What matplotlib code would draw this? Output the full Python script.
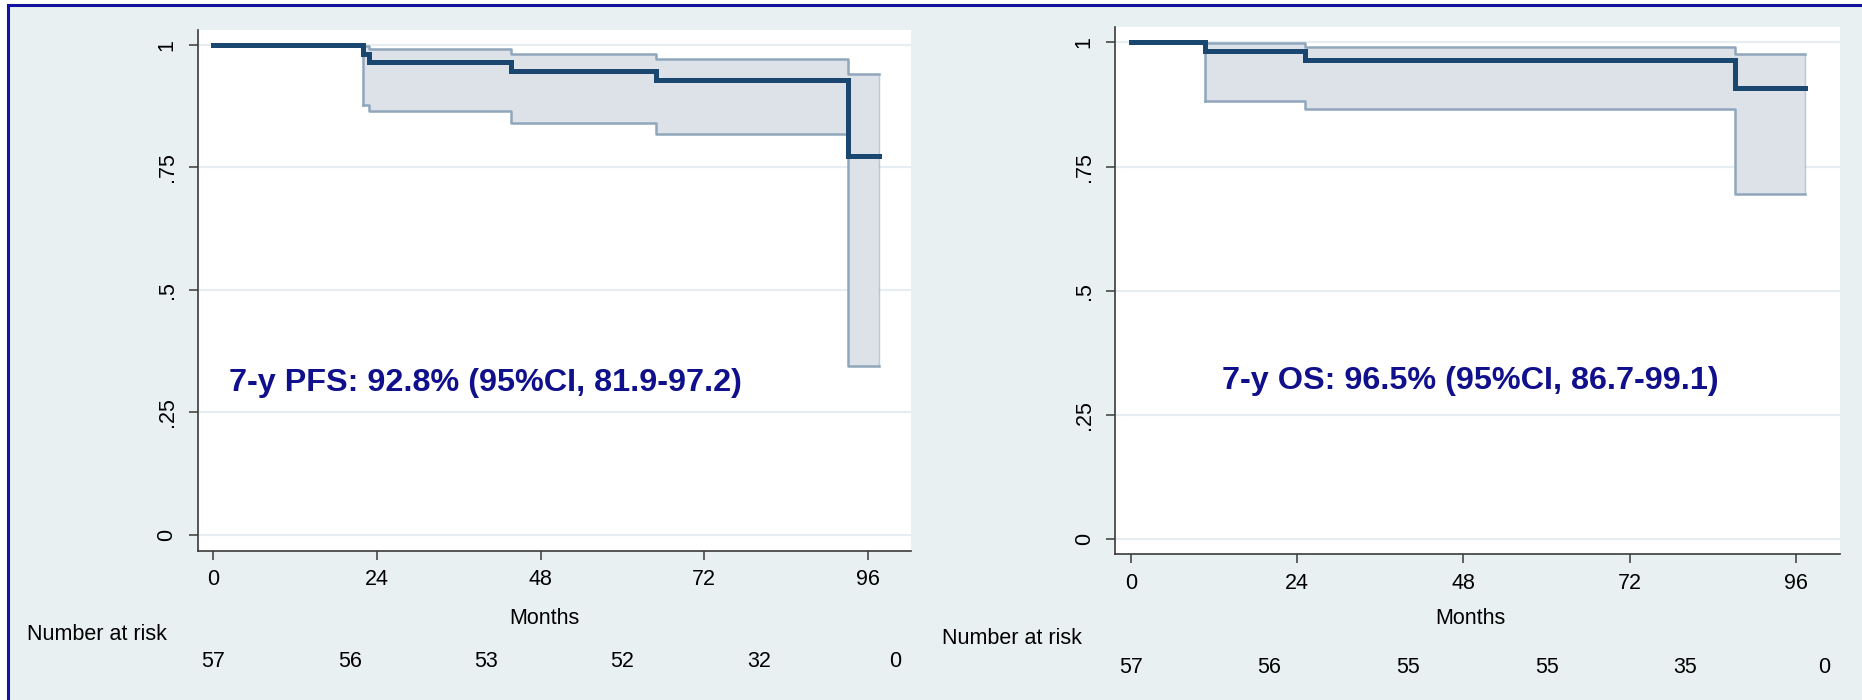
import matplotlib
matplotlib.use("Agg")
import matplotlib.pyplot as plt
import matplotlib.transforms as mtransforms
from matplotlib.patches import Rectangle

plt.rcParams['font.family'] = ['Liberation Sans', 'DejaVu Sans']

# ---- Progression-free survival (Kaplan-Meier, step values) ----
pfs_time = [0.0, 22.0, 22.8, 43.7, 64.9, 93.1]
pfs_surv = [1.0, 0.982, 0.965, 0.947, 0.928, 0.773]
pfs_lower = [1.0, 0.877, 0.866, 0.840, 0.819, 0.345]
pfs_upper = [1.0, 0.997, 0.991, 0.982, 0.972, 0.941]
pfs_end = 97.6
pfs_risk = [57, 56, 53, 52, 32, 0]
pfs_note = "7-y PFS: 92.8% (95%CI, 81.9-97.2)"

# ---- Overall survival ----
os_time = [0.0, 10.7, 25.1, 87.2]
os_surv = [1.0, 0.982, 0.965, 0.909]
os_lower = [1.0, 0.883, 0.867, 0.695]
os_upper = [1.0, 0.998, 0.991, 0.977]
os_end = 97.3
os_risk = [57, 56, 55, 55, 35, 0]
os_note = "7-y OS: 96.5% (95%CI, 86.7-99.1)"

risk_times = [0, 20, 40, 60, 80, 100]
x_ticks = [0, 24, 48, 72, 96]
y_ticks = [0, 0.25, 0.5, 0.75, 1.0]
y_ticklabels = ["0", ".25", ".5", ".75", "1"]

BG = '#e9f0f2'
NAVY = '#1a476f'
CI_LINE = '#8fa6bb'
CI_FILL = '#dde2e9'
GRID = '#e6eef1'
NOTE = '#10108c'
FS = 15.5

fig = plt.figure(figsize=(18.62, 7.0), dpi=100, facecolor='white')

# outer frame
frame = Rectangle((7.8 / 1862, -0.05), 1.2, (700 - 5.3) / 700 + 0.05,
                  transform=fig.transFigure, facecolor=BG,
                  edgecolor='#1212a0', linewidth=2.2, zorder=-10)
fig.patches.append(frame)


def km_panel(rect, ylim, t, s, lo, hi, t_end, risk, note, note_xy, risk_y):
    ax = fig.add_axes(rect)
    ax.set_facecolor('white')
    ax.set_xlim(-2.3, 102.3)
    ax.set_ylim(*ylim)

    tt = list(t) + [t_end]
    ss = list(s) + [s[-1]]
    ll = list(lo) + [lo[-1]]
    hh = list(hi) + [hi[-1]]

    # confidence band from the first event onwards
    ci_t = tt[1:]
    ci_l = ll[1:]
    ci_h = hh[1:]
    ax.fill_between(ci_t, ci_l, ci_h, step='post', color=CI_FILL,
                    linewidth=0, zorder=2)
    ax.step(ci_t, ci_l, where='post', color=CI_LINE, lw=1.8, zorder=3)
    ax.step(ci_t, ci_h, where='post', color=CI_LINE, lw=1.8, zorder=3)
    ax.plot([ci_t[0], ci_t[0]], [ci_l[0], ci_h[0]], color=CI_LINE, lw=1.8, zorder=3)
    ax.plot([ci_t[-1], ci_t[-1]], [ci_l[-1], ci_h[-1]], color=CI_LINE, lw=1.0,
            alpha=0.6, zorder=3)

    ax.step(tt, ss, where='post', color=NAVY, lw=3.6, zorder=4,
            solid_joinstyle='miter')

    for y in y_ticks:
        ax.axhline(y, color=GRID, lw=1.6, zorder=1)

    for side in ('top', 'right'):
        ax.spines[side].set_visible(False)
    for side in ('left', 'bottom'):
        ax.spines[side].set_color('#3a3a3a')
        ax.spines[side].set_linewidth(1.2)

    ax.set_xticks(x_ticks)
    ax.set_xticklabels([str(v) for v in x_ticks])
    ax.set_yticks(y_ticks)
    ax.set_yticklabels(y_ticklabels, rotation=90, va='center')
    ax.tick_params(axis='both', length=6.5, width=1.1, color='#3a3a3a',
                   labelsize=FS, labelcolor='black')
    ax.tick_params(axis='x', pad=7)
    ax.tick_params(axis='y', pad=8)

    ax.text(note_xy[0], note_xy[1], note, fontsize=23.3, fontweight='bold',
            color=NOTE, ha='left', va='center', zorder=5)

    trans = mtransforms.blended_transform_factory(ax.transData, ax.transAxes)
    for x, n in zip(risk_times, risk):
        ax.text(x, risk_y, str(n), transform=trans, ha='center', va='center',
                fontsize=FS, clip_on=False)
    return ax


W, H = 1862.0, 700.0

km_panel([197.7 / W, (H - 550.7) / H, 713.3 / W, 520.7 / H],
         (-0.0327, 1.0306), pfs_time, pfs_surv, pfs_lower, pfs_upper,
         pfs_end, pfs_risk, pfs_note, (2.3, 0.31), -0.2137)

km_panel([1115.0 / W, (H - 554.3) / H, 724.7 / W, 527.3 / H],
         (-0.0308, 1.0312), os_time, os_surv, os_lower, os_upper,
         os_end, os_risk, os_note, (13.2, 0.318), -0.2151)

fig.text(544 / W, (H - 618) / H, "Months", ha='center', va='center', fontsize=FS)
fig.text(1470 / W, (H - 619) / H, "Months", ha='center', va='center', fontsize=FS)
fig.text(27 / W, (H - 635) / H, "Number at risk", ha='left', va='center', fontsize=FS)
fig.text(942 / W, (H - 639) / H, "Number at risk", ha='left', va='center', fontsize=FS)

fig.savefig("out.png", dpi=100, facecolor='white')
